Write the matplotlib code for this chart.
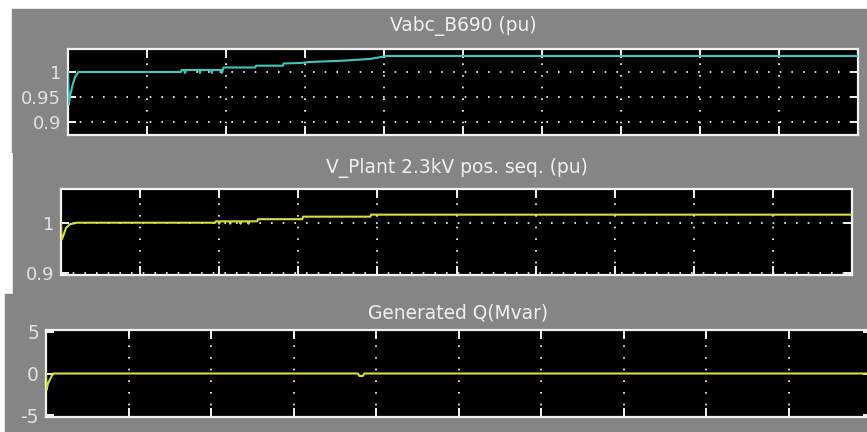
import matplotlib.pyplot as plt
from matplotlib.patches import Rectangle

W, H = 867, 432

# panel 1: Vabc_B690 (pu)
t1 = [0.00, 0.01, 0.03, 0.06, 0.09, 0.13,
      1.43, 1.44,
      1.47, 1.48, 1.49,
      1.66, 1.67, 1.68,
      1.81, 1.82, 1.83,
      1.94, 1.95, 1.96,
      1.97, 2.37, 2.38, 2.72, 2.73,
      2.94, 3.06, 3.47, 3.82, 4.00, 4.03, 10.0]
v1 = [1.000, 0.935, 0.955, 0.975, 0.990, 1.000,
      1.000, 1.004,
      1.004, 0.998, 1.004,
      1.004, 0.998, 1.004,
      1.004, 0.998, 1.004,
      1.004, 0.998, 1.004,
      1.009, 1.009, 1.0126, 1.0126, 1.017,
      1.018, 1.020, 1.0226, 1.026, 1.031, 1.032, 1.032]

# panel 2: V_Plant 2.3kV pos. seq. (pu)
t2 = [0.00, 0.006, 0.025, 0.063, 0.114, 0.20,
      1.95, 1.96,
      1.99, 2.00, 2.01,
      2.13, 2.14, 2.15,
      2.26, 2.27, 2.28,
      2.36, 2.37, 2.38,
      2.48, 2.49, 3.05, 3.06, 3.91, 3.92, 10.0]
v2 = [1.000, 0.966, 0.972, 0.9895, 0.997, 1.000,
      1.000, 1.0027,
      1.0027, 0.998, 1.0027,
      1.0027, 0.998, 1.0027,
      1.0027, 0.998, 1.0027,
      1.0027, 0.998, 1.0027,
      1.0027, 1.007, 1.007, 1.012, 1.012, 1.016, 1.016]

# panel 3: Generated Q(Mvar)
t3 = [0.0, 0.006, 0.024, 0.085, 3.78, 3.80, 3.84, 3.86, 10.0]
v3 = [0.0, -2.0, -1.2, 0.0, 0.0, -0.3, -0.3, 0.0, 0.0]

titles = ['Vabc_B690 (pu)', 'V_Plant 2.3kV pos. seq. (pu)', 'Generated Q(Mvar)']
yticks = [[0.9, 0.95, 1], [0.9, 1], [-5, 0, 5]]
yticklabels = [['0.9', '0.95', '1'], ['0.9', '1'], ['-5', '0', '5']]
ylims = [(0.874, 1.046), (0.896, 1.067), (-5.24, 5.24)]

gray = '#858585'
fig = plt.figure(figsize=(W / 100, H / 100), dpi=100, facecolor='white')

# gray scope backgrounds (x0, y0, x1, y1 in pixels from top-left)
for x0, y0, x1, y1 in [(12, 9, 867, 152), (13, 152, 867, 294), (5, 294, 867, 432)]:
    fig.patches.append(Rectangle((x0 / W, 1 - y1 / H), (x1 - x0) / W, (y1 - y0) / H,
                                 transform=fig.transFigure, color=gray, zorder=-5))

boxes = [(68, 858, 49, 135), (61, 852, 189, 275), (46, 871, 330, 417)]
title_y = [26, 168, 313]
data = [(t1, v1, '#3ec8bc'), (t2, v2, '#d4e040'), (t3, v3, '#d4e040')]

for i, (l, r, top, bot) in enumerate(boxes):
    ax = fig.add_axes([l / W, 1 - bot / H, (r - l) / W, (bot - top) / H])
    ax.set_facecolor('black')
    t, v, c = data[i]
    ax.plot(t, v, color=c, lw=1.5, zorder=3)
    ax.set_xlim(0, 10)
    ax.set_ylim(*ylims[i])
    ax.set_xticks(range(11))
    ax.set_yticks(yticks[i])
    ax.set_yticklabels(yticklabels[i])
    for s in ax.spines.values():
        s.set_color('#f2f2f2')
        s.set_linewidth(1.6)
    ax.tick_params(axis='x', direction='in', top=True, bottom=True, length=6.5,
                   width=1.4, color='#f2f2f2', labelbottom=False)
    ax.tick_params(axis='y', direction='in', left=True, right=True, length=5.5,
                   width=1.4, color='#f2f2f2', labelcolor='#e2e2e2',
                   labelsize=13.5 if i == 2 else 13, pad=5)
    ax.grid(True, axis='x', color='white', linestyle=(0, (1, 6)), lw=1.2)
    if i < 2:
        ax.grid(True, axis='y', color='white', linestyle=(0, (1, 6)), lw=1.2)
    fig.text((l + min(r, W + 4)) / 2 / W, 1 - title_y[i] / H, titles[i],
             ha='center', va='center', color='#f0f0f0', fontsize=13.4)

fig.savefig('out.png', dpi=100, facecolor='white')
